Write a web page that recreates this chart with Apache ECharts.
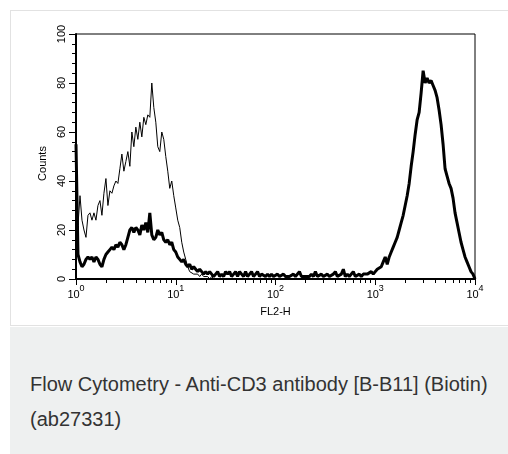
<!DOCTYPE html>
<html>
<head>
<meta charset="utf-8">
<script src="https://cdn.jsdelivr.net/npm/echarts@6/dist/echarts.min.js"></script>
<style>
  body { margin: 0; background: #fff; width: 508px; height: 454px; overflow: hidden; font-family: "Liberation Sans", Arial, sans-serif; }
  .card { position: absolute; left: 10px; top: 10px; width: 520px; height: 314px; border: 1px solid #e2e2e2; background: #fff; }
  #chart { position: absolute; left: 0; top: 0; width: 508px; height: 326px; }
  .caption { position: absolute; left: 10px; top: 327px; width: 520px; height: 127px; box-sizing: border-box;
             padding: 40px 0 0 20px; background: #eef0f0; color: #333; font-size: 20px; line-height: 35px; }
</style>
</head>
<body>
<div class="card"></div>
<div id="chart"></div>
<div class="caption">Flow Cytometry - Anti-CD3 antibody [B-B11] (Biotin)<br>(ab27331)</div>
<script>
// histogram bins are evenly spaced in log10(FL2-H), 0.02 decade each, starting at 10^0
const binWidth = 0.02;
const decades = [0, 1, 2, 3, 4];
const countTicks = [0, 20, 40, 60, 80, 100];

// isotype control (thin line)
const controlCounts = [
  28, 22, 34, 24, 20, 17, 26, 27, 24, 27, 24, 30, 32, 26, 35, 41, 30, 36, 35, 38,
  40, 39, 45, 51, 44, 48, 52, 46, 60, 54, 62, 57, 64, 58, 66, 63, 67, 66, 80, 70,
  64, 54, 52, 60, 57, 50, 44, 37, 40, 34, 29, 24, 21, 15, 11, 8, 5, 3, 3, 2,
  2, 2, 1, 2, 1, 1, 1, 0, 1, 0, 0
];

// anti-CD3 stained (thick line)
const stainedCounts = [
  55, 10, 7, 5, 6, 8, 9, 8, 9, 7, 9, 8, 6, 5, 8, 10, 11, 12, 13, 12,
  14, 13, 15, 14, 12, 14, 17, 20, 21, 19, 21, 20, 18, 22, 20, 23, 19, 27, 18, 16,
  17, 20, 18, 19, 16, 15, 16, 14, 15, 12, 11, 9, 8, 7, 8, 6, 5, 6, 4, 5,
  4, 3, 4, 3, 2, 3, 2, 3, 2, 1, 2, 3, 1, 2, 1, 3, 2, 3, 1, 2,
  3, 1, 3, 2, 1, 3, 1, 2, 3, 1, 2, 3, 1, 2, 2, 1, 2, 1, 2, 1,
  1, 2, 1, 1, 2, 1, 1, 1, 1, 2, 1, 1, 3, 1, 1, 1, 1, 1, 2, 1,
  3, 1, 1, 2, 1, 1, 2, 1, 1, 2, 3, 1, 1, 2, 4, 1, 2, 1, 1, 3,
  1, 1, 2, 1, 2, 2, 2, 2, 3, 2, 3, 4, 4, 5, 7, 9, 6, 9, 11, 13,
  15, 17, 20, 23, 26, 30, 34, 39, 46, 52, 59, 65, 68, 76, 85, 80, 82, 80, 81, 79,
  77, 74, 69, 63, 55, 45, 42, 39, 37, 33, 27, 23, 19, 15, 12, 9, 7, 5, 3, 2,
  0
];

const toPoints = counts => counts.map((c, i) => [i * binWidth, c]);

// minor decade ticks at 2..9 x 10^n
const minorTicks = [];
for (let d = 0; d < 4; d++) {
  for (let k = 2; k <= 9; k++) minorTicks.push(d + Math.log10(k));
}

const chart = echarts.init(document.getElementById("chart"));
const axisFont = { fontFamily: "Liberation Sans", fontSize: 11, color: "#000" };

chart.setOption({
  animation: false,
  grid: { left: 76, top: 34, right: 33, bottom: 47, show: true, borderColor: "#000", borderWidth: 1 },
  xAxis: [
    {
      type: "value", min: 0, max: 4, position: "bottom",
      name: "FL2-H", nameLocation: "middle", nameGap: 27, nameTextStyle: axisFont,
      axisLine: { lineStyle: { color: "#000", width: 2 } },
      axisTick: { customValues: decades, length: 6, lineStyle: { color: "#000" } },
      axisLabel: {
        customValues: decades, margin: 5,
        formatter: v => "{b|10}{s|" + v + "}",
        rich: {
          b: { fontFamily: "Liberation Sans", fontSize: 11, color: "#000" },
          s: { fontFamily: "Liberation Sans", fontSize: 9, color: "#000", padding: [0, 0, 12, 0] }
        }
      },
      splitLine: { show: false }
    },
    {
      type: "value", min: 0, max: 4, position: "bottom",
      axisLine: { show: false },
      axisTick: { customValues: minorTicks, length: 4, lineStyle: { color: "#000" } },
      axisLabel: { show: false },
      splitLine: { show: false }
    }
  ],
  yAxis: {
    type: "value", min: 0, max: 100, interval: 20,
    name: "Counts", nameLocation: "middle", nameGap: 28, nameRotate: 90,
    nameTextStyle: { ...axisFont, padding: [0, 14, 0, 0] },
    axisLine: { show: true, lineStyle: { color: "#000", width: 2 } },
    axisTick: { show: true, length: 7, lineStyle: { color: "#000" } },
    minorTick: { show: true, splitNumber: 5, length: 4, lineStyle: { color: "#000" } },
    axisLabel: { ...axisFont, rotate: 90, margin: 9, formatter: v => (countTicks.includes(v) ? String(v) : "") },
    splitLine: { show: false }
  },
  series: [
    {
      name: "Control", type: "line", data: toPoints(controlCounts), showSymbol: false,
      lineStyle: { color: "#000", width: 1 }
    },
    {
      name: "Anti-CD3", type: "line", data: toPoints(stainedCounts), showSymbol: false,
      lineStyle: { color: "#000", width: 3 }
    }
  ]
});
</script>
</body>
</html>
